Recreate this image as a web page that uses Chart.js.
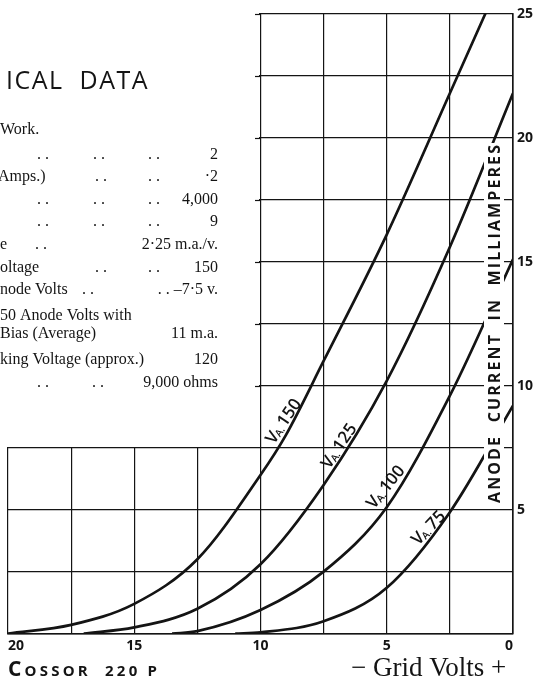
<!DOCTYPE html>
<html>
<head>
<meta charset="utf-8">
<script src="https://cdn.jsdelivr.net/npm/chart.js@4.4.0/dist/chart.umd.min.js"></script>
<style>
  html, body { margin: 0; padding: 0; background: #fff; }
  #wrap { width: 540px; height: 680px; }
</style>
</head>
<body>
<div id="wrap"><canvas id="valve"></canvas></div>
<script>
// Cossor 220P: anode current (mA) against negative grid volts, one curve per anode voltage
const va150Volts = [-20, -17.5, -15, -12.5, -10, -9, -7.5, -5, -2.5, -1.1, 0]
const va150Current = [0, 0.35, 1.2, 3.0, 6.4, 8.0, 11.0, 16.1, 21.8, 25, 27.5]

const va125Volts = [-17, -15, -12.5, -10, -7.5, -5, -2.5, 0]
const va125Current = [0, 0.25, 1.0, 2.8, 6.0, 10.2, 15.6, 21.8]

const va100Volts = [-13.5, -12.5, -10, -7.5, -5, -2.5, 0]
const va100Current = [0, 0.1, 0.95, 2.5, 5.1, 9.6, 15.1]

const va75Volts = [-11, -10, -7.5, -5, -2.5, 0]
const va75Current = [0, 0.05, 0.5, 1.85, 4.9, 9.2]

const anodeVolts = ['150', '125', '100', '75']
const xLabelValues = [-20, -15, -10, -5, 0]
const yLabelValues = [5, 10, 15, 20, 25]

const INK = '#141414'
const serif = "'Liberation Serif', 'DejaVu Serif', serif"
const sans = "'Open Sans', 'DejaVu Sans', sans-serif"

const toPoints = (xs, ys) => xs.map((v, i) => ({ x: v, y: ys[i] }))

const curve = (label, xs, ys) => ({
  label: label,
  data: toPoints(xs, ys),
  borderColor: INK,
  borderWidth: 2.7,
  pointRadius: 0,
  fill: false,
  cubicInterpolationMode: 'monotone',
})

// the text panel in the upper left, cut off at the page edge like the scan
const tableRows = [
  { y: 130, parts: [['Work.', 0, 'left']] },
  { y: 155, parts: [['. .', 37], ['. .', 93], ['. .', 148], ['2', 218, 'right']] },
  { y: 177, parts: [['Amps.)', -2], ['. .', 95], ['. .', 148], ['\u00b72', 218, 'right']] },
  { y: 200, parts: [['. .', 37], ['. .', 93], ['. .', 148], ['4,000', 218, 'right']] },
  { y: 222, parts: [['. .', 37], ['. .', 93], ['. .', 148], ['9', 218, 'right']] },
  { y: 245, parts: [['e', 0], ['. .', 35], ['2\u00b725 m.a./v.', 218, 'right']] },
  { y: 268, parts: [['oltage', 0], ['. .', 95], ['. .', 148], ['150', 218, 'right']] },
  { y: 290, parts: [['node Volts', 0], ['. .', 82], ['. . \u20137\u00b75 v.', 218, 'right']] },
  { y: 316, parts: [['50 Anode Volts with', 0]] },
  { y: 334, parts: [['Bias (Average)', 0], ['11 m.a.', 218, 'right']] },
  { y: 360, parts: [['king Voltage (approx.)', 0], ['120', 218, 'right']] },
  { y: 383, parts: [['. .', 37], ['. .', 92], ['9,000 ohms', 218, 'right']] },
]

// where each curve name sits, in chart units, and its slant
const curveTags = [
  { x: -9.1, y: 8.6, angle: -56 },
  { x: -6.9, y: 7.6, angle: -56 },
  { x: -5.05, y: 5.95, angle: -51 },
  { x: -3.35, y: 4.3, angle: -46 },
]

const sheet = {
  id: 'sheet',
  beforeDatasetsDraw(chart) {
    const { ctx, scales: { x, y } } = chart
    const xl = Math.round(x.getPixelForValue(-10))
    const yt = Math.round(y.getPixelForValue(7.5))
    ctx.save()
    ctx.fillStyle = '#fff'
    ctx.fillRect(0, 0, xl - 1, yt - 1)

    // short ticks left of the tall part of the grid
    ctx.strokeStyle = INK
    ctx.lineWidth = 1.2
    for (let v = 10; v <= 25; v += 2.5) {
      const py = Math.round(y.getPixelForValue(v)) + 0.5
      ctx.beginPath()
      ctx.moveTo(xl - 5, py)
      ctx.lineTo(xl, py)
      ctx.stroke()
    }

    ctx.fillStyle = INK
    ctx.textBaseline = 'middle'
    ctx.font = `500 25px ${sans}`
    ctx.letterSpacing = '1.5px'
    ctx.textAlign = 'left'
    ctx.fillText('ICAL  DATA', 6, 82)
    ctx.letterSpacing = '0px'

    ctx.font = `16px ${serif}`
    tableRows.forEach(row => {
      row.parts.forEach(([text, px, align]) => {
        ctx.textAlign = align || 'left'
        ctx.fillText(text, px, row.y)
      })
    })
    ctx.restore()
  },
  afterDatasetsDraw(chart) {
    const { ctx, scales: { x, y } } = chart
    ctx.save()

    // rotated axis caption, with white ground breaking the curves
    const caption = 'ANODE  CURRENT  IN  MILLIAMPERES'
    ctx.font = `bold 16px ${sans}`
    const span = 358
    const chars = caption.split('')
    const widths = chars.map(c => ctx.measureText(c).width)
    const total = widths.reduce((a, b) => a + b, 0)
    const gap = (span - total) / (chars.length - 1)
    const cx = 494
    const bottom = 503
    ctx.fillStyle = '#fff'
    ctx.fillRect(cx - 10, bottom - span - 2, 20, span + 4)
    ctx.translate(cx, bottom)
    ctx.rotate(-Math.PI / 2)
    ctx.fillStyle = INK
    ctx.textBaseline = 'middle'
    ctx.textAlign = 'left'
    let pos = 0
    chars.forEach((c, i) => {
      ctx.fillText(c, pos, 1)
      pos += widths[i] + gap
    })
    ctx.setTransform(1, 0, 0, 1, 0, 0)

    // curve names: V with subscript A, then the anode voltage
    curveTags.forEach((tag, i) => {
      const px = x.getPixelForValue(tag.x)
      const py = y.getPixelForValue(tag.y)
      ctx.save()
      ctx.translate(px, py)
      ctx.rotate(tag.angle * Math.PI / 180)
      ctx.fillStyle = INK
      ctx.textBaseline = 'alphabetic'
      ctx.textAlign = 'left'
      ctx.font = `600 17px ${sans}`
      const wV = ctx.measureText('V').width
      const num = anodeVolts[i]
      const wN = ctx.measureText(num).width
      ctx.font = `600 10px ${sans}`
      const wA = ctx.measureText('A.').width
      const w = wV + wA + 2 + wN
      const sx = -w / 2
      ctx.font = `600 17px ${sans}`
      ctx.fillText('V', sx, 6)
      ctx.font = `600 10px ${sans}`
      ctx.fillText('A.', sx + wV - 1, 7)
      ctx.font = `600 17px ${sans}`
      ctx.fillText(num, sx + wV + wA + 1, 6)
      ctx.restore()
    })

    // maker's mark under the left of the plot
    ctx.fillStyle = INK
    ctx.textBaseline = 'alphabetic'
    ctx.textAlign = 'left'
    ctx.letterSpacing = '3.2px'
    ctx.font = `bold 21px ${sans}`
    ctx.fillText('C', 8, 676)
    const wc = ctx.measureText('C').width
    ctx.font = `bold 15px ${sans}`
    ctx.fillText('OSSOR  220 P', 8 + wc, 676)
    ctx.restore()
  },
}

new Chart(document.getElementById('valve'), {
  type: 'line',
  data: {
    datasets: [
      curve('Va 150', va150Volts, va150Current),
      curve('Va 125', va125Volts, va125Current),
      curve('Va 100', va100Volts, va100Current),
      curve('Va 75', va75Volts, va75Current),
    ],
  },
  options: {
    responsive: true,
    maintainAspectRatio: false,
    animation: false,
    layout: { padding: { left: 8, top: 14, right: 3, bottom: 0 } },
    plugins: {
      legend: { display: false },
      tooltip: { enabled: false },
    },
    scales: {
      x: {
        type: 'linear',
        min: -20,
        max: 0,
        grid: { color: INK, lineWidth: 1.2, drawTicks: false },
        border: { color: INK, width: 1.6 },
        ticks: {
          stepSize: 2.5,
          autoSkip: false,
          maxRotation: 0,
          align: 'inner',
          padding: 4,
          color: INK,
          font: { family: sans, size: 14, weight: 'bold' },
          callback: v => (xLabelValues.includes(v) ? String(Math.abs(v)) : ''),
        },
        title: {
          display: true,
          text: '\u2212 Grid Volts +\u00a0',
          align: 'end',
          color: INK,
          font: { family: serif, size: 27, lineHeight: 0.8 },
          padding: { top: 0, bottom: 0 },
        },
      },
      y: {
        position: 'right',
        min: 0,
        max: 25,
        grid: { color: INK, lineWidth: 1.2, drawTicks: false },
        border: { color: INK, width: 1.6 },
        ticks: {
          stepSize: 2.5,
          autoSkip: false,
          padding: 4,
          color: INK,
          font: { family: sans, size: 14, weight: 'bold' },
          callback: v => (yLabelValues.includes(v) ? String(v) : ''),
        },
      },
    },
  },
  plugins: [sheet],
})
</script>
</body>
</html>
